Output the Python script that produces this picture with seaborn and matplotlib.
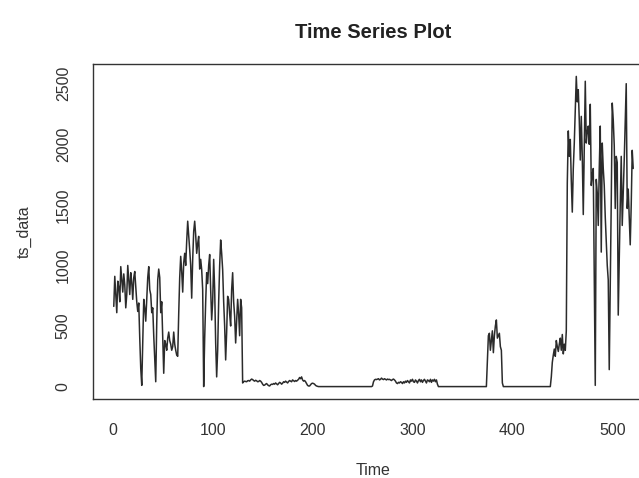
import numpy as np
import pandas as pd
import matplotlib
matplotlib.use("Agg")
import matplotlib.pyplot as plt
import seaborn as sns

# ---- data, t = 1..521 ----
seg_high1 = [662, 910, 760, 610, 870, 820, 700, 990, 880, 780,
             930, 840, 650, 760, 1000, 880, 760, 940, 860, 720,
             900, 950, 820, 700, 620, 690, 400, 150, 10, 350,
             720, 650, 540, 720, 900, 990, 800, 760, 610, 650,
             420, 220, 40, 520, 880, 970, 900, 610, 700, 420,
             110, 380, 350, 300, 400, 450, 380, 350, 300, 330,
             450, 350, 300, 260, 250, 600, 900, 1075, 950, 780,
             1020, 1100, 1000, 1200, 1365, 1250, 1130, 1000, 730, 1050,
             1280, 1365, 1250, 1100, 1180, 1240, 970, 1050, 965, 800,
             0, 400, 700, 940, 850, 1000, 1090, 800, 550, 700,
             1050, 800, 360, 80, 300, 700, 1000, 1210, 1100, 965,
             700, 500, 220, 450, 745, 720, 600, 500, 800, 940,
             700, 580, 360, 550, 720, 600, 420, 720, 650, 30]
seg_low1 = [40, 45, 42, 40, 48, 50, 45, 55, 62, 58,
            50, 45, 52, 48, 40, 42, 50, 45, 35, 20,
            10, 12, 20, 25, 15, 8, 5, 15, 20, 18,
            25, 20, 30, 22, 15, 25, 35, 30, 20, 28,
            40, 35, 45, 38, 30, 42, 50, 45, 40, 55,
            48, 42, 50, 45, 52, 60, 75, 65, 80, 55,
            45, 50, 40, 25, 10, 5, 5, 15, 25, 28,
            25, 20, 10, 5, 2]
flat1 = [0, 0, 0, 0, 0, 0, 0, 0, 0, 0, 0, 0, 0, 0, 0, 0, 0, 0,
         0, 0, 0, 0, 0, 0, 0, 0, 0, 0, 0, 0, 0, 0, 0, 0, 0, 0,
         0, 0, 0, 0, 0, 0, 0, 0, 0, 0, 0, 0, 0, 0, 0, 0, 0, 0]
seg_low2 = [5, 40, 55, 60, 58, 62, 65, 55, 60, 70,
            62, 58, 65, 60, 55, 62, 58, 60, 55, 50,
            58, 62, 55, 45, 30, 25, 35, 30, 40, 35,
            25, 40, 30, 45, 35, 50, 40, 30, 55, 45,
            60, 40, 35, 55, 45, 30, 50, 60, 40, 55,
            35, 50, 60, 45, 30, 55, 50, 40, 60, 35,
            55, 45, 60, 40, 55, 20]
flat2 = [0, 0, 0, 0, 0, 0, 0, 0, 0, 0, 0, 0, 0, 0, 0, 0,
         0, 0, 0, 0, 0, 0, 0, 0, 0, 0, 0, 0, 0, 0, 0, 0,
         0, 0, 0, 0, 0, 0, 0, 0, 0, 0, 0, 0, 0, 0, 0, 0]
seg_spike = [0, 200, 420, 440, 300, 380, 460, 280, 420, 500,
             550, 400, 420, 440, 330, 300, 30]
flat3 = [0, 0, 0, 0, 0, 0, 0, 0, 0, 0, 0, 0, 0, 0, 0, 0,
         0, 0, 0, 0, 0, 0, 0, 0, 0, 0, 0, 0, 0, 0, 0, 0,
         0, 0, 0, 0, 0, 0, 0, 0, 0, 0, 0, 0, 0, 0, 0, 0]
seg_high2 = [80, 200, 260, 310, 250, 380, 330, 290, 350, 400,
             300, 430, 270, 350, 300, 460, 1680, 2110, 1900, 2040,
             1700, 1440, 1800, 2010, 2300, 2560, 2350, 2450, 2200, 1870,
             2230, 1900, 1420, 2000, 2520, 2010, 2100, 2150, 2000, 2330,
             1660, 1750, 1800, 900, 10, 1710, 1600, 1330, 1800, 2150,
             1110, 2010, 1800, 1660, 1400, 1200, 1000, 880, 140, 800,
             1520, 2340, 2200, 1990, 1470, 1900, 1850, 590, 1060, 1500,
             1900, 1330, 1600, 1870, 2200, 2500, 1470, 1630, 1400, 1170,
             1500, 1950, 1800]

x_ticks = [0, 100, 200, 300, 400, 500]
y_ticks = [0, 500, 1000, 1500, 2000, 2500]
title = "Time Series Plot"
x_label = "Time"
y_label = "ts_data"

ts_data = (seg_high1 + seg_low1 + flat1 + seg_low2 + flat2
           + seg_spike + flat3 + seg_high2)
df = pd.DataFrame({"Time": np.arange(1, len(ts_data) + 1), "ts_data": ts_data})

# ---- styling ----
sns.set_style("white")
plt.rcParams["font.family"] = ["Liberation Sans", "DejaVu Sans"]

W, H, DPI = 639, 478, 100
fig = plt.figure(figsize=(W / DPI, H / DPI), dpi=DPI)
left, right, top, bottom = 93, 654, 64, 399
ax = fig.add_axes([left / W, (H - bottom) / H, (right - left) / W, (bottom - top) / H])

sns.lineplot(data=df, x="Time", y="ts_data", ax=ax, color="#2b2b2b",
             linewidth=1.1, estimator=None, sort=False)

n = len(ts_data)
rx = (n - 1) * 0.04
ax.set_xlim(1 - rx, n + rx)
ymin, ymax = min(ts_data), max(ts_data)
ry = (ymax - ymin) * 0.04
ax.set_ylim(ymin - ry, ymax + ry)

ax.set_xticks(x_ticks)
ax.set_yticks(y_ticks)
ax.set_xticklabels([str(v) for v in x_ticks])
ax.set_yticklabels([str(v) for v in y_ticks], rotation=90, va="center")

for s in ax.spines.values():
    s.set_visible(True)
    s.set_color("#333333")
    s.set_linewidth(1.0)

ax.tick_params(axis="both", direction="out", length=7, width=1.0,
               color="#444444", labelsize=11.5, labelcolor="#333333")
ax.tick_params(axis="x", pad=10)
ax.tick_params(axis="y", pad=9)

ax.set_title(title, fontsize=14.5, fontweight="bold", color="#222222", pad=19)
ax.set_xlabel(x_label, fontsize=11.5, color="#333333")
ax.set_ylabel(y_label, fontsize=11.5, color="#333333")
ax.xaxis.set_label_coords(0.5, -0.19)
ax.yaxis.set_label_coords(-0.11, 0.5)
ax.grid(False)

fig.savefig("out.png", dpi=DPI, facecolor="white")
